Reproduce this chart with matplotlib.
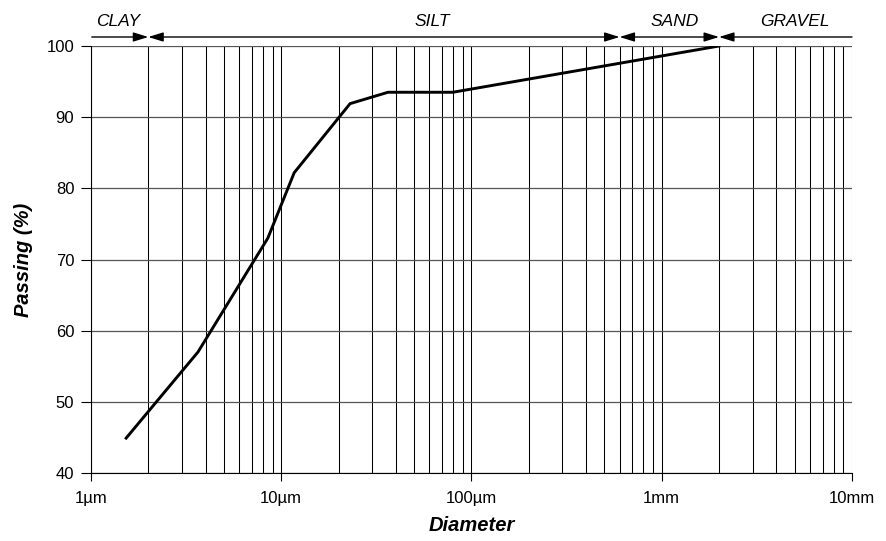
import matplotlib
matplotlib.use("Agg")
import matplotlib.pyplot as plt
import numpy as np
from matplotlib.ticker import FixedLocator, NullFormatter

plt.rcParams['font.family'] = ['Liberation Sans', 'DejaVu Sans']

# Grain size curve (diameter in µm, passing %)
diameter_um = [1.53, 3.65, 8.5, 11.7, 23.0, 36.4, 79.8, 2000]
passing_pct = [44.9, 57.0, 73.0, 82.2, 91.9, 93.5, 93.5, 100.0]

# Zone boundaries (µm) and labels
zone_bounds = [1, 2, 600, 2000, 10000]
zone_names = ["CLAY", "SILT", "SAND", "GRAVEL"]
zone_label_x = [1.38, 62, 1170, 5000]

xtick_vals = [1, 10, 100, 1000, 10000]
xtick_labels = ["1µm", "10µm", "100µm", "1mm", "10mm"]
ytick_vals = [40, 50, 60, 70, 80, 90, 100]

fig = plt.figure(figsize=(8.87, 5.41), dpi=100)
ax = fig.add_axes([91/887, 68/541, 761/887, 427/541])

ax.set_xscale('log')
ax.set_xlim(1, 10000)
ax.set_ylim(40, 100)

# grid lines
minor_vals = [m * 10**d for d in range(0, 4) for m in range(2, 10)]
for v in minor_vals + xtick_vals:
    ax.axvline(v, color='black', lw=0.75, zorder=1)
for v in ytick_vals:
    ax.axhline(v, color='#555555', lw=0.9, zorder=1)

ax.plot(diameter_um, passing_pct, color='black', lw=2.1, zorder=3, solid_joinstyle='miter')

ax.xaxis.set_major_locator(FixedLocator(xtick_vals))
ax.set_xticklabels(xtick_labels)
ax.xaxis.set_minor_locator(FixedLocator(minor_vals))
ax.xaxis.set_minor_formatter(NullFormatter())
ax.tick_params(axis='x', which='minor', length=0)
ax.tick_params(axis='x', which='major', length=6, width=0.8, direction='out', labelsize=12, pad=7)
ax.set_yticks(ytick_vals)
ax.tick_params(axis='y', length=7, width=0.8, direction='out', labelsize=12, pad=5)

for s in ['top', 'right']:
    ax.spines[s].set_visible(False)
ax.spines['left'].set_linewidth(0.8)
ax.spines['bottom'].set_linewidth(0.8)

ax.set_xlabel("Diameter", fontsize=14.5, fontweight='bold', fontstyle='italic', labelpad=7)
ax.set_ylabel("Passing (%)", fontsize=14.5, fontweight='bold', fontstyle='italic', labelpad=10)

# zone arrows above the plot
trans = ax.get_xaxis_transform()
y_arrow = 1 + 9/427
y_text = 1 + 24/427
n = len(zone_names)
for i in range(n):
    x0, x1 = zone_bounds[i], zone_bounds[i + 1]
    if i == 0:
        style = '-|>'
    elif i == n - 1:
        style = '<|-'
    else:
        style = '<|-|>'
    ax.annotate('', xy=(x1, y_arrow), xytext=(x0 * 1.01 if i == 0 else x0, y_arrow),
                xycoords=trans, textcoords=trans,
                arrowprops=dict(arrowstyle=style + ',head_length=0.9,head_width=0.28',
                                color='black', lw=1.0, shrinkA=0, shrinkB=0),
                annotation_clip=False)
    ax.text(zone_label_x[i], y_text, zone_names[i], transform=trans, ha='center', va='center',
            fontsize=12.5, fontstyle='italic', clip_on=False)

fig.savefig("out.png", dpi=100)
